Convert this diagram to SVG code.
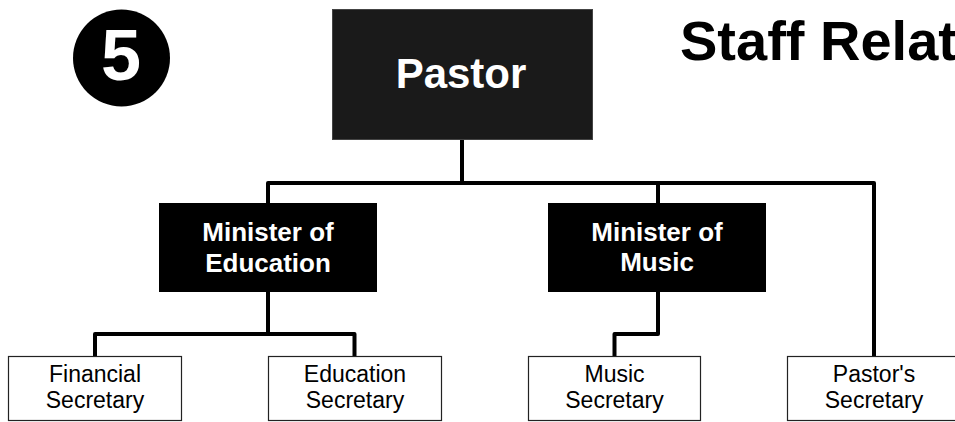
<svg xmlns="http://www.w3.org/2000/svg" width="955" height="422" viewBox="0 0 955 422">
  <style>
    .bold { font-family: "Liberation Sans", Arial, sans-serif; font-weight: bold; }
    .reg { font-family: "Liberation Sans", Arial, sans-serif; }
    .dark { fill: #000000; }
    .sec { fill: #ffffff; stroke: #222222; stroke-width: 1.2; }
    .wtext { fill: #ffffff; text-anchor: middle; }
    .btext { fill: #000000; text-anchor: middle; font-size: 23px; }
    .conn { fill: none; stroke: #000000; stroke-width: 4; stroke-linejoin: round; stroke-linecap: butt; }
  </style>
  <rect width="955" height="422" fill="#ffffff"/>

  <!-- step badge -->
  <g id="badge">
    <circle cx="121.5" cy="58" r="48.5" fill="#000000"/>
    <text x="121" y="80" class="bold wtext" font-size="72">5</text>
  </g>

  <!-- title -->
  <g id="title">
    <text x="680" y="60" class="bold" font-size="56" fill="#000000">Staff Relat</text>
  </g>

  <!-- connectors -->
  <g id="connectors">
    <path class="conn" d="M462 139 V183"/>
    <path class="conn" d="M268 203 V183 H658 V203"/>
    <path class="conn" stroke-width="3.5" d="M658 183 H874 V356"/>
    <path class="conn" d="M268 292 V334 M95 356 V334 H354.5 V356"/>
    <path class="conn" d="M658 292 V334 H614.5 V356"/>
  </g>

  <!-- top level -->
  <g id="pastor">
    <rect x="332.5" y="9.5" width="260" height="130" fill="#1a1a1a" stroke="#444444" stroke-width="1"/>
    <text x="461" y="88" class="bold wtext" font-size="42">Pastor</text>
  </g>

  <!-- ministers -->
  <g id="minister-education">
    <rect x="159" y="203" width="218" height="89" class="dark"/>
    <text x="268" y="241" class="bold wtext" font-size="26">Minister of</text>
    <text x="268" y="272" class="bold wtext" font-size="26">Education</text>
  </g>
  <g id="minister-music">
    <rect x="548" y="203" width="218" height="89" class="dark"/>
    <text x="657" y="241" class="bold wtext" font-size="26">Minister of</text>
    <text x="657" y="271" class="bold wtext" font-size="26">Music</text>
  </g>

  <!-- secretaries -->
  <g id="financial-secretary">
    <rect x="8.5" y="356.5" width="173" height="64" class="sec"/>
    <text x="95" y="381.5" class="reg btext">Financial</text>
    <text x="95" y="407.5" class="reg btext">Secretary</text>
  </g>
  <g id="education-secretary">
    <rect x="268.5" y="356.5" width="173" height="64" class="sec"/>
    <text x="355" y="381.5" class="reg btext">Education</text>
    <text x="355" y="407.5" class="reg btext">Secretary</text>
  </g>
  <g id="music-secretary">
    <rect x="528.5" y="356.5" width="172" height="64" class="sec"/>
    <text x="614.5" y="381.5" class="reg btext">Music</text>
    <text x="614.5" y="407.5" class="reg btext">Secretary</text>
  </g>
  <g id="pastors-secretary">
    <rect x="787.5" y="356.5" width="173" height="64" class="sec"/>
    <text x="874" y="381.5" class="reg btext">Pastor's</text>
    <text x="874" y="407.5" class="reg btext">Secretary</text>
  </g>
</svg>
